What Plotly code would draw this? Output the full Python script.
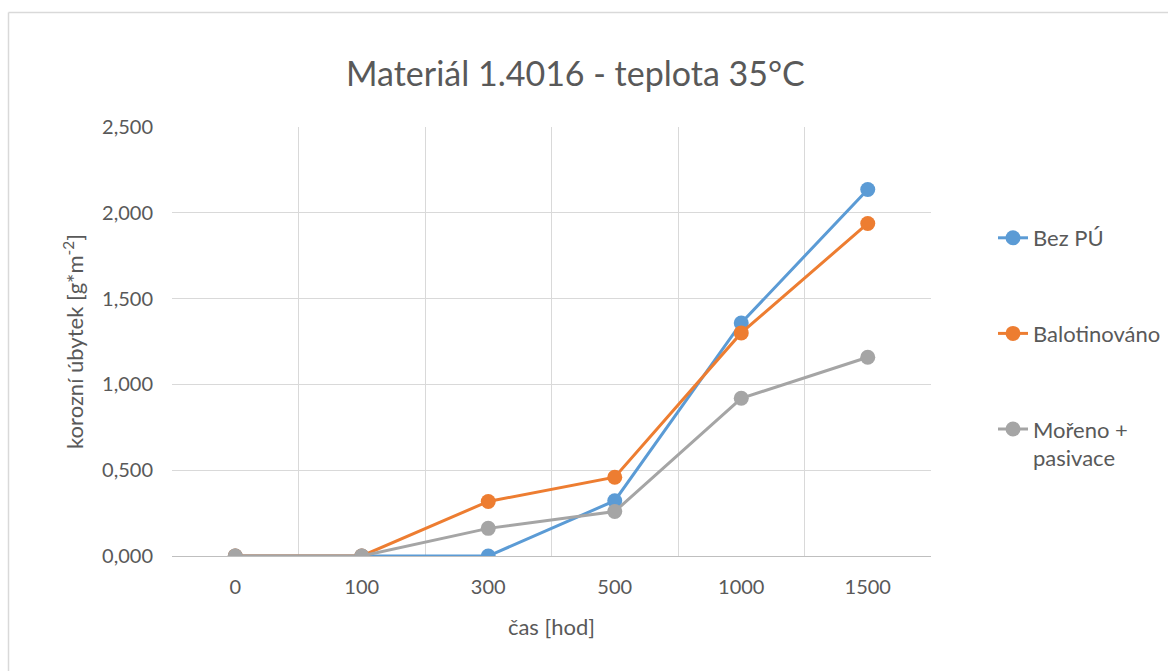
import plotly.graph_objects as go

categories = ["0", "100", "300", "500", "1000", "1500"]
bez_pu = [0.0, 0.0, 0.0, 0.322, 1.358, 2.136]
balotinovano = [0.0, 0.0, 0.318, 0.459, 1.300, 1.938]
moreno = [0.0, 0.0, 0.161, 0.259, 0.919, 1.158]

series_names = ["Bez PÚ", "Balotinováno", "Mořeno +<br>pasivace"]
series_values = [bez_pu, balotinovano, moreno]
series_colors = ["#5B9BD5", "#ED7D31", "#A5A5A5"]

FONT = "Lato"
TXT = "#595959"

fig = go.Figure()
for name, vals, col in zip(series_names, series_values, series_colors):
    fig.add_trace(go.Scatter(
        x=categories, y=vals, name=name, mode="lines+markers",
        line=dict(color=col, width=3),
        marker=dict(color=col, size=15),
        legendgroup=name,
    ))

W, H = 1168, 671
L, R, T, B = 172, 237, 127, 115
pw, ph = W - L - R, H - T - B

def px2x(p):
    return (p - L) / pw

def px2y(p):
    return (H - B - p) / ph

fig.update_layout(
    width=W, height=H,
    margin=dict(l=L, r=R, t=T, b=B, pad=0),
    paper_bgcolor="white", plot_bgcolor="white",
    separators=", ",
    font=dict(family=FONT, color=TXT, size=20),
    showlegend=True,
    legend=dict(
        xref="container", yref="container",
        x=993 / W, xanchor="left",
        y=1 - 217 / H, yanchor="top",
        tracegroupgap=64, valign="top",
        font=dict(family=FONT, size=22, color=TXT),
        bgcolor="rgba(0,0,0,0)",
    ),
    xaxis=dict(
        type="category", range=[-0.5, 5.5],
        tickson="boundaries", ticks="",
        showgrid=True, gridcolor="#D9D9D9", gridwidth=1,
        showline=True, linecolor="#BFBFBF", linewidth=1,
        ticklabelstandoff=13,
        tickfont=dict(family=FONT, size=20, color=TXT),
        title=dict(text="čas [hod]", font=dict(family=FONT, size=22, color=TXT), standoff=22),
        zeroline=False,
    ),
    yaxis=dict(
        range=[0, 2.5], dtick=0.5, tick0=0, tickformat=".3f",
        showgrid=True, gridcolor="#D9D9D9", gridwidth=1,
        showline=False, zeroline=False, ticks="",
        ticklabelstandoff=18,
        tickfont=dict(family=FONT, size=20, color=TXT),
        title=dict(text="korozní úbytek [g*m<sup>-2</sup>]", font=dict(family=FONT, size=22, color=TXT), standoff=12),
    ),
    annotations=[dict(
        text="Materiál 1.4016 - teplota 35°C",
        xref="paper", yref="paper", x=px2x(575), y=px2y(72),
        xanchor="center", yanchor="middle", showarrow=False,
        font=dict(family=FONT, size=34, color=TXT),
    )],
    shapes=[
        dict(type="line", xref="paper", yref="paper",
             x0=px2x(8.5), x1=px2x(8.5), y0=px2y(12.5), y1=px2y(700),
             line=dict(color="#D9D9D9", width=1.5)),
        dict(type="line", xref="paper", yref="paper",
             x0=px2x(8.5), x1=px2x(1200), y0=px2y(12.5), y1=px2y(12.5),
             line=dict(color="#D9D9D9", width=1.5)),
    ],
)

fig.write_html("out.html")
